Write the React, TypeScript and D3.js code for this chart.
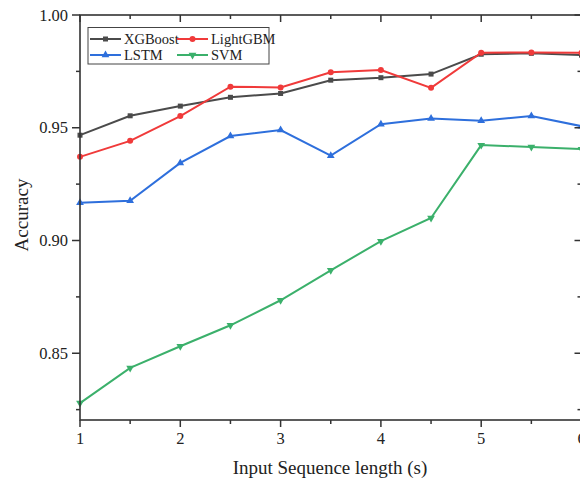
import React from "react";
import * as d3 from "d3";

const xs = [1, 1.5, 2, 2.5, 3, 3.5, 4, 4.5, 5, 5.5, 6];
const xgboost = [0.9467, 0.9553, 0.9596, 0.9635, 0.9652, 0.9711, 0.9722, 0.9738, 0.9826, 0.983, 0.9822];
const lightgbm = [0.9371, 0.9442, 0.9552, 0.9682, 0.9679, 0.9746, 0.9756, 0.9677, 0.9833, 0.9834, 0.9833];
const lstm = [0.9167, 0.9176, 0.9344, 0.9463, 0.949, 0.9376, 0.9516, 0.9541, 0.9531, 0.9552, 0.9507];
const svm = [0.8279, 0.8435, 0.8531, 0.8624, 0.8735, 0.8868, 0.8997, 0.91, 0.9423, 0.9415, 0.9405];
const xMajor = [1, 2, 3, 4, 5, 6];
const xMinor = [1.5, 2.5, 3.5, 4.5, 5.5];
const yMajor = [0.85, 0.9, 0.95, 1.0];
const yMinor = [0.825, 0.875, 0.925, 0.975];

const series = [
  { name: "XGBoost", values: xgboost, color: "#4b4b4b", marker: "square" },
  { name: "LightGBM", values: lightgbm, color: "#f03a3a", marker: "circle" },
  { name: "LSTM", values: lstm, color: "#2e6fdc", marker: "tri-up" },
  { name: "SVM", values: svm, color: "#3bb06b", marker: "tri-down" },
];

const FONT = "'Liberation Serif', 'Times New Roman', serif";
const AX = "#333";

export default function App() {
  const left = 80, right = 581.5, top = 15, bottom = 420;
  const x = d3.scaleLinear().domain([1, 6]).range([left, right]);
  const y = d3.scaleLinear().domain([0.8204, 1.0]).range([bottom, top]);
  const line = d3.line<number>().x((_, i) => x(xs[i])).y((v) => y(v));

  const marker = (m: string, cx: number, cy: number, color: string, key: string) => {
    if (m === "square") return <rect key={key} x={cx - 2.5} y={cy - 2.5} width={5} height={5} fill={color} />;
    if (m === "circle") return <circle key={key} cx={cx} cy={cy} r={3} fill={color} />;
    const sym = d3.symbol().type(d3.symbolTriangle).size(26)();
    return (
      <path key={key} d={sym || ""} transform={`translate(${cx},${cy})${m === "tri-down" ? " rotate(180)" : ""}`} fill={color} />
    );
  };

  const legend = [
    { s: series[0], lx: 90, ty: 39 },
    { s: series[1], lx: 177, ty: 39 },
    { s: series[2], lx: 90, ty: 55 },
    { s: series[3], lx: 177, ty: 55 },
  ];

  return (
    <svg width={580} height={484} style={{ position: "absolute", left: 0, top: 0 }}>
      <rect width={580} height={484} fill="#fff" />
      {/* series */}
      {series.map((s) => (
        <g key={s.name}>
          <path d={line(s.values) || ""} fill="none" stroke={s.color} strokeWidth={2} />
          {s.values.map((v, i) => marker(s.marker, x(xs[i]), y(v), s.color, s.name + i))}
        </g>
      ))}
      {/* frame */}
      <rect x={left} y={top} width={right - left} height={bottom - top} fill="none" stroke={AX} strokeWidth={1.6} />
      {/* bottom ticks */}
      {xMajor.map((t) => (
        <g key={"xb" + t}>
          <line x1={x(t)} x2={x(t)} y1={bottom} y2={bottom + 7} stroke={AX} strokeWidth={1.5} />
          <line x1={x(t)} x2={x(t)} y1={top} y2={top + 7} stroke={AX} strokeWidth={1.5} />
          <text x={x(t)} y={bottom + 24} textAnchor="middle" fontFamily={FONT} fontSize={16.5} fill="#222">{t}</text>
        </g>
      ))}
      {xMinor.map((t) => (
        <g key={"xm" + t}>
          <line x1={x(t)} x2={x(t)} y1={bottom} y2={bottom + 4} stroke={AX} strokeWidth={1.5} />
          <line x1={x(t)} x2={x(t)} y1={top} y2={top + 4} stroke={AX} strokeWidth={1.5} />
        </g>
      ))}
      {yMajor.map((t) => (
        <g key={"yb" + t}>
          <line x1={left} x2={left - 8} y1={y(t)} y2={y(t)} stroke={AX} strokeWidth={1.5} />
          <line x1={right} x2={right - 7} y1={y(t)} y2={y(t)} stroke={AX} strokeWidth={1.5} />
          <text x={left - 12} y={y(t) + 5.5} textAnchor="end" fontFamily={FONT} fontSize={16.5} fill="#222">{t.toFixed(2)}</text>
        </g>
      ))}
      {yMinor.map((t) => (
        <g key={"ym" + t}>
          <line x1={left} x2={left - 4} y1={y(t)} y2={y(t)} stroke={AX} strokeWidth={1.5} />
          <line x1={right} x2={right - 4} y1={y(t)} y2={y(t)} stroke={AX} strokeWidth={1.5} />
        </g>
      ))}
      {/* axis titles */}
      <text x={330} y={474} textAnchor="middle" fontFamily={FONT} fontSize={19} fill="#222">Input Sequence length (s)</text>
      <text transform={`translate(28,215) rotate(-90)`} textAnchor="middle" fontFamily={FONT} fontSize={19} fill="#222">Accuracy</text>
      {/* legend */}
      <rect x={88} y={27.5} width={181} height={36.5} fill="#fff" stroke="#444" strokeWidth={1} />
      {legend.map(({ s, lx, ty }) => (
        <g key={"lg" + s.name}>
          <line x1={lx} x2={lx + 31} y1={ty} y2={ty} stroke={s.color} strokeWidth={2} />
          {marker(s.marker, lx + 15.5, ty, s.color, "lm" + s.name)}
          <text x={lx + 34} y={ty + 5} fontFamily={FONT} fontSize={14.5} fill="#222">{s.name}</text>
        </g>
      ))}
    </svg>
  );
}
